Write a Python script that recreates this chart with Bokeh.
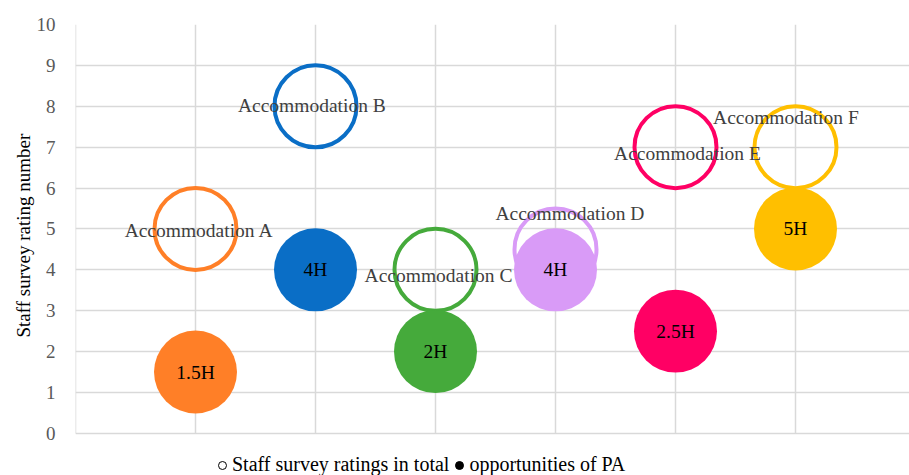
from bokeh.plotting import figure
from bokeh.models import Range1d, FixedTicker, Legend, LegendItem, ColumnDataSource, Title
from bokeh.core.properties import value
from bokeh.embed import file_html
from bokeh.resources import INLINE

# ---- data ----
accommodations = ["Accommodation A", "Accommodation B", "Accommodation C",
                  "Accommodation D", "Accommodation E", "Accommodation F"]
positions = [1, 2, 3, 4, 5, 6]
survey_ratings = [5, 8, 4, 4.5, 7, 7]
pa_values = [1.5, 4, 2, 4, 2.5, 5]
pa_labels = ["1.5H", "4H", "2H", "4H", "2.5H", "5H"]
colors = ["#FF7F27", "#0A6EC6", "#45AA3B", "#D99BF7", "#FF0064", "#FFBF00"]
# label placement offsets (data units) relative to the outline bubble
label_dx = [0.03, -0.03, 0.025, 0.12, 0.10, -0.08]
label_dy = [-0.04, 0.02, -0.14, 0.88, -0.15, 0.73]
y_ticks = list(range(0, 11))
x_grid = [0, 1, 2, 3, 4, 5, 6, 7]
legend_labels = ["Staff survey ratings in total", "opportunities of PA"]
y_title = "Staff survey rating number"

FONT = "Liberation Serif"
GRID = "#D9D9D9"

p = figure(width=909, height=475, output_backend="svg", toolbar_location=None,
           x_range=Range1d(0, 6.95), y_range=Range1d(-1.03, 10),
           x_axis_location=None, min_border_left=75, min_border_right=0,
           min_border_top=24, min_border_bottom=0)
p.outline_line_color = None
p.background_fill_color = "white"
p.border_fill_color = "white"

p.xgrid.visible = False
p.ygrid.ticker = FixedTicker(ticks=y_ticks)
p.ygrid.grid_line_color = GRID
p.ygrid.grid_line_width = 1.5

ax = p.yaxis[0]
ax.ticker = FixedTicker(ticks=y_ticks)
ax.axis_line_color = None
ax.major_tick_line_color = None
ax.minor_tick_line_color = None
ax.major_label_text_font = FONT
ax.major_label_text_font_size = "19px"
ax.major_label_text_color = "#595959"
ax.major_label_standoff = 14

# y-axis title, aligned to the 0..10 part of the frame
p.add_layout(Title(text=y_title, align="left", offset=138, standoff=0,
                   text_font=FONT, text_font_size="19px",
                   text_font_style="normal", text_color="#000000"), "left")

# vertical grid lines spanning the 0..10 rating scale
p.segment(x0=x_grid, y0=[y_ticks[0]] * len(x_grid), x1=x_grid,
          y1=[y_ticks[-1]] * len(x_grid), line_color=GRID, line_width=1.5)

src = ColumnDataSource(dict(
    x=positions, sr=survey_ratings, pa=pa_values, lab=accommodations,
    pal=pa_labels, c=colors,
    lx=[a + b for a, b in zip(positions, label_dx)],
    ly=[a + b for a, b in zip(survey_ratings, label_dy)],
))

# outline bubbles (total ratings)
p.scatter("x", "sr", source=src, marker="circle", size=82, fill_color=None,
          line_color="c", line_width=4)
# filled bubbles (PA opportunities)
p.scatter("x", "pa", source=src, marker="circle", size=83, fill_color="c",
          line_color=None)

p.text("lx", "ly", text="lab", source=src, text_font=value(FONT),
       text_font_size="19.5px", text_color="#404040", text_align="center",
       text_baseline="middle")
p.text("x", "pa", text="pal", source=src, text_font=value(FONT),
       text_font_size="19.5px", text_color="#000000", text_align="center",
       text_baseline="middle")

# legend marker renderers (no visible points)
nan = float("nan")
r_open = p.scatter(x=[nan], y=[nan], marker="circle", fill_color="white",
                   line_color="black", line_width=1)
r_fill = p.scatter(x=[nan], y=[nan], marker="circle", fill_color="black",
                   line_color="black")
legend = Legend(items=[LegendItem(label=legend_labels[0], renderers=[r_open]),
                       LegendItem(label=legend_labels[1], renderers=[r_fill])],
                orientation="horizontal", location=(137, -1),
                label_text_font=FONT, label_text_font_size="20px",
                label_text_color="#000000", glyph_width=20, glyph_height=20,
                label_standoff=0, spacing=-9, padding=0, margin=0,
                border_line_color=None, background_fill_alpha=0)
p.add_layout(legend, "center")

open("out.html", "w").write(file_html(p, INLINE))
